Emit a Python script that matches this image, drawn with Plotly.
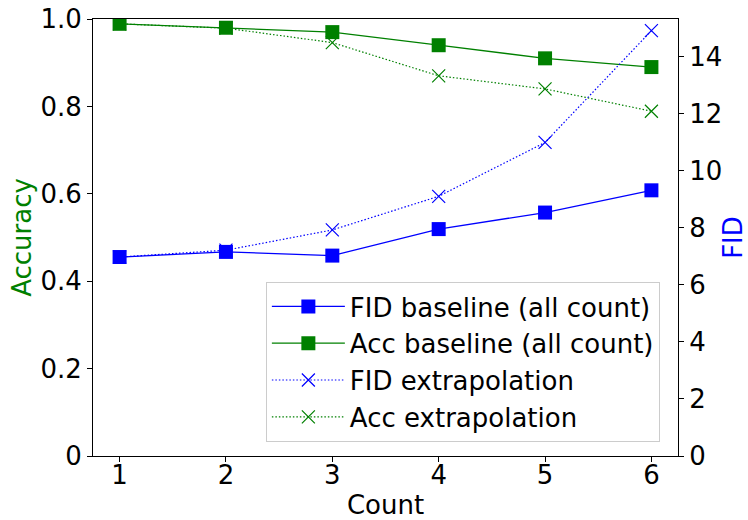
import plotly.graph_objects as go

counts = [1, 2, 3, 4, 5, 6]
fid_baseline = [6.98, 7.16, 7.03, 7.96, 8.54, 9.32]
acc_baseline = [0.989, 0.980, 0.970, 0.940, 0.910, 0.890]
fid_extrap = [6.98, 7.22, 7.93, 9.11, 11.0, 14.92]
acc_extrap = [0.989, 0.979, 0.946, 0.870, 0.840, 0.789]

acc_ticks = [0, 0.2, 0.4, 0.6, 0.8, 1.0]
acc_ticktext = ["0", "0.2", "0.4", "0.6", "0.8", "1.0"]
fid_ticks = [0, 2, 4, 6, 8, 10, 12, 14]

BLUE = "#0000ff"
GREEN = "#008000"
FONT = "DejaVu Sans"
FS = 26
DOT = "1.5px,2px"

fig = go.Figure()
fig.add_trace(go.Scatter(
    x=counts, y=fid_baseline, name="FID baseline (all count)", yaxis="y2",
    mode="lines+markers", line=dict(color=BLUE, width=1.3),
    marker=dict(symbol="square", size=14, color=BLUE), legendgroup="a"))
fig.add_trace(go.Scatter(
    x=counts, y=acc_baseline, name="Acc baseline (all count)", yaxis="y",
    mode="lines+markers", line=dict(color=GREEN, width=1.3),
    marker=dict(symbol="square", size=14, color=GREEN), legendgroup="b"))
fig.add_trace(go.Scatter(
    x=counts, y=fid_extrap, name="FID extrapolation", yaxis="y2",
    mode="lines+markers", line=dict(color=BLUE, width=1.2, dash=DOT),
    marker=dict(symbol="x-thin", size=13, color=BLUE, line=dict(color=BLUE, width=1.2)),
    legendgroup="c"))
fig.add_trace(go.Scatter(
    x=counts, y=acc_extrap, name="Acc extrapolation", yaxis="y",
    mode="lines+markers", line=dict(color=GREEN, width=1.2, dash=DOT),
    marker=dict(symbol="x-thin", size=13, color=GREEN, line=dict(color=GREEN, width=1.2)),
    legendgroup="d"))

axis_common = dict(showline=True, linecolor="black", linewidth=1, ticks="outside",
                   ticklen=5, tickcolor="black", showgrid=False, zeroline=False,
                   automargin=False,
                   tickfont=dict(family=FONT, size=FS, color="black"))

fig.update_layout(
    width=748, height=520,
    margin=dict(l=93, r=70, t=19, b=64),
    paper_bgcolor="white", plot_bgcolor="white",
    font=dict(family=FONT, size=FS, color="black"),
    xaxis=dict(range=[0.75, 6.25], tickvals=counts, mirror=True, ticklabelstandoff=-9,
               title=dict(text="Count", font=dict(family=FONT, size=FS, color="black"), standoff=8),
               **axis_common),
    yaxis=dict(range=[0, 1], tickvals=acc_ticks, ticktext=acc_ticktext, mirror=True,
               title=dict(text="Accuracy", font=dict(family=FONT, size=FS, color=GREEN), standoff=1),
               **axis_common),
    yaxis2=dict(range=[0, 15.33], tickvals=fid_ticks, overlaying="y", side="right",
                title=dict(text="FID", font=dict(family=FONT, size=FS, color=BLUE), standoff=14),
                **axis_common),
    legend=dict(x=0.969, y=0.032, xanchor="right", yanchor="bottom",
                bgcolor="rgba(255,255,255,0.8)", bordercolor="#cccccc", borderwidth=1,
                font=dict(family=FONT, size=FS, color="black"), tracegroupgap=5,
                itemwidth=73, traceorder="normal"),
    showlegend=True,
)

fig.write_html("out.html")
